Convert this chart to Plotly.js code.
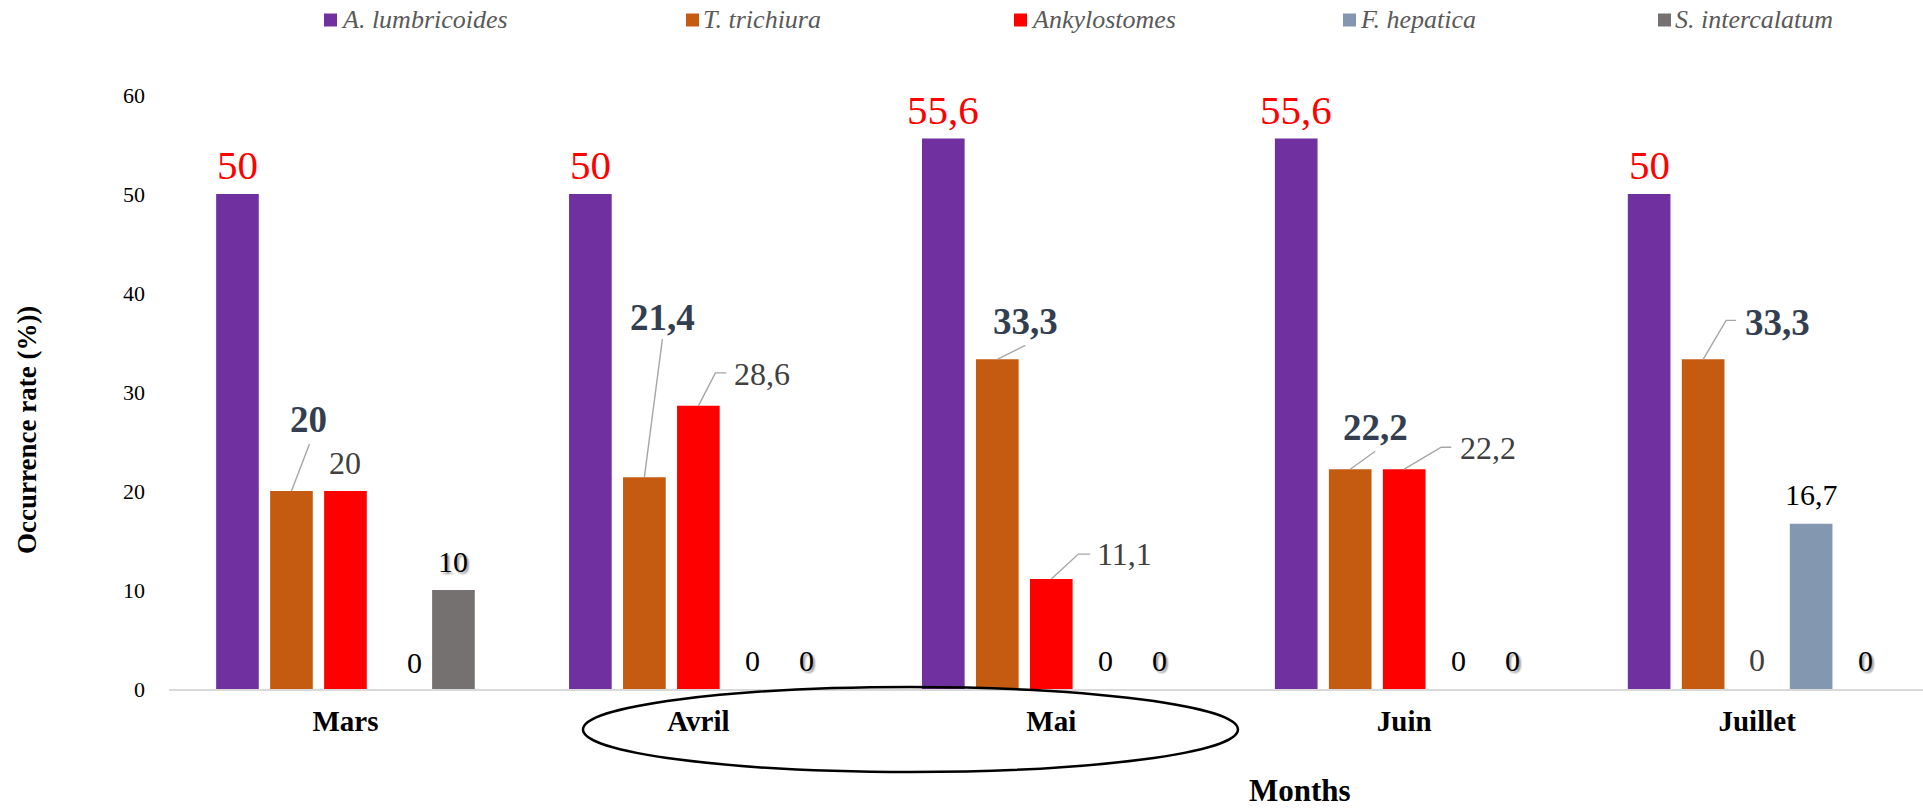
<!DOCTYPE html>
<html><head><meta charset="utf-8">
<script src="https://cdn.plot.ly/plotly-3.0.1.min.js"></script>
<style>html,body{margin:0;padding:0;background:#fff}</style>
</head><body><div id="chart" style="width:1923px;height:810px"></div>
<script>
// ---- data ----
const months = ['Mars', 'Avril', 'Mai', 'Juin', 'Juillet'];
const seriesNames = ['A. lumbricoides', 'T. trichiura', 'Ankylostomes', 'F. hepatica', 'S. intercalatum'];
const aLumbricoides = [50, 50, 55.6, 55.6, 50];
const tTrichiura = [20, 21.4, 33.3, 22.2, 33.3];
const ankylostomes = [20, 28.6, 11.1, 22.2, 0];
const fHepatica = [0, 0, 0, 0, 16.7];
const sIntercalatum = [10, 0, 0, 0, 0];
const yTicks = [0, 10, 20, 30, 40, 50, 60];
const yTitle = 'Occurrence rate (%))';
const xTitle = 'Months';

// ---- styles ----
const SERIF = 'Liberation Serif, Times New Roman, serif';
const W = 1923, H = 810;
const M = {l: 169, r: 0, t: 95, b: 121};
const BARGAP = 0.235, GROUPGAP = 0.21;
const seriesValues = [aLumbricoides, tTrichiura, ankylostomes, fHepatica, sIntercalatum];
const barColors = ['#7030A0', '#C55A11', '#FF0000', '#8497B0', '#767171'];
const labelFonts = [
  {family: SERIF, size: 41, color: '#FF0000'},
  {family: SERIF, size: 37, color: '#333F50', weight: 'bold'},
  {family: SERIF, size: 32, color: '#404040'},
  {family: SERIF, size: 30, color: '#000000'},
  {family: SERIF, size: 30, color: '#000000', shadow: '2px 2px 2px #9a9a9a'}
];
// legend swatch left edges (px) and look
const legendX = [324, 686, 1014, 1343, 1658];
const legendY = 20, SWATCH = 13;
const legendFont = {family: SERIF, size: 26, color: '#595959', style: 'italic'};
// label offsets (px, y up) for labels with leader lines, keyed "series-month"
const leaders = {
  '1-0': {text: [17, 72], path: [[0, 0], [18, 47]]},
  '1-1': {text: [18, 160], path: [[0, 0], [18, 138]]},
  '2-1': {text: [64, 32], path: [[0, 0], [17, 33], [28, 33]]},
  '1-2': {text: [28, 38], path: [[0, 0], [28, 14]]},
  '2-2': {text: [73, 25], path: [[0, 0], [27, 25], [39, 25]]},
  '1-3': {text: [25, 42], path: [[0, 0], [25, 18]]},
  '2-3': {text: [84, 21], path: [[0, 0], [37, 22], [47, 22]]},
  '1-4': {text: [74, 37], path: [[0, 0], [23, 39], [33, 39]]}
};
const plainShift = {'2-0': [0, 28], '3-0': [15, 27]};
const DEFAULT_SHIFT = [0, 29];

const plotW = W - M.l - M.r, plotH = H - M.t - M.b;
const px2paperX = p => (p - M.l) / plotW;
const px2paperY = p => (H - M.b - p) / plotH;

const nS = seriesValues.length;
const slot = (1 - BARGAP) / nS;
const fmt = v => String(v).replace('.', ',');

const traces = seriesValues.map((vals, s) => ({
  type: 'bar', name: seriesNames[s], x: months, y: vals,
  marker: {color: barColors[s], line: {width: 0}},
  hoverinfo: 'x+y+name', showlegend: false
}));

const annotations = [];
const shapes = [];
seriesValues.forEach((vals, s) => {
  vals.forEach((v, c) => {
    const xp = c + (s - (nS - 1) / 2) * slot;
    const key = s + '-' + c;
    let shift = plainShift[key] || DEFAULT_SHIFT;
    if (leaders[key]) {
      shift = leaders[key].text;
      const p = leaders[key].path.map((pt, i) => (i ? 'L' : 'M') + pt[0] + ',' + pt[1]).join('');
      shapes.push({type: 'path', xref: 'x', yref: 'y', xsizemode: 'pixel', ysizemode: 'pixel',
        xanchor: xp, yanchor: v, path: p, line: {color: '#A6A6A6', width: 1.4}});
    }
    annotations.push({
      x: xp, y: v, xref: 'x', yref: 'y', text: fmt(v), showarrow: false,
      xanchor: 'center', yanchor: 'middle', xshift: shift[0], yshift: shift[1],
      font: labelFonts[s]
    });
  });
});

// custom legend (one row, top)
seriesNames.forEach((name, s) => {
  shapes.push({type: 'rect', xref: 'paper', yref: 'paper',
    x0: px2paperX(legendX[s]), x1: px2paperX(legendX[s] + SWATCH),
    y0: px2paperY(legendY - SWATCH / 2), y1: px2paperY(legendY + SWATCH / 2),
    fillcolor: barColors[s], line: {width: 0}});
  annotations.push({xref: 'paper', yref: 'paper', x: px2paperX(legendX[s] + SWATCH + 2), y: px2paperY(legendY),
    text: name, showarrow: false, xanchor: 'left', yanchor: 'middle', font: legendFont});
});

// axis titles
annotations.push({xref: 'paper', yref: 'paper', x: px2paperX(27), y: px2paperY(430), text: yTitle,
  textangle: -90, showarrow: false, xanchor: 'center', yanchor: 'middle',
  font: {family: SERIF, size: 27, color: '#000', weight: 'bold'}});
annotations.push({xref: 'paper', yref: 'paper', x: px2paperX(1300), y: px2paperY(809), text: xTitle,
  showarrow: false, xanchor: 'center', yanchor: 'bottom', borderpad: 0,
  font: {family: SERIF, size: 31, color: '#000', weight: 'bold'}});

// ellipse around Avril / Mai
shapes.push({type: 'circle', xref: 'x', yref: 'paper', x0: 0.673, x1: 2.529,
  y0: px2paperY(687), y1: px2paperY(772), line: {color: '#000', width: 2.5}, layer: 'above'});

const layout = {
  width: W, height: H, margin: M,
  paper_bgcolor: '#fff', plot_bgcolor: '#fff',
  barmode: 'group', bargap: BARGAP, bargroupgap: GROUPGAP,
  showlegend: false,
  xaxis: {type: 'category', range: [-0.5, 4.47], showgrid: false, zeroline: false,
    showline: true, linecolor: '#D9D9D9', linewidth: 2, ticks: '', ticklabelstandoff: 5,
    tickfont: {family: SERIF, size: 29, color: '#000', weight: 'bold'}, fixedrange: true},
  yaxis: {range: [0, 60], tickvals: yTicks, ticktext: yTicks.map(String), showgrid: false, zeroline: false,
    showline: false, ticks: '', ticklabelstandoff: 23,
    tickfont: {family: SERIF, size: 22, color: '#000'}, fixedrange: true},
  annotations: annotations,
  shapes: shapes
};
Plotly.newPlot('chart', traces, layout, {displayModeBar: false});
</script>
</body></html>
